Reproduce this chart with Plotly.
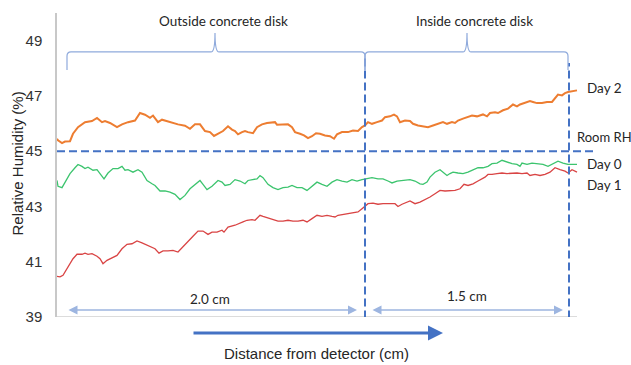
import plotly.graph_objects as go

# Position along the sample (arbitrary units, no tick labels on the x axis)
day2_x = [0, 1, 5, 8, 13, 16, 21, 28, 35, 40, 45, 48, 53, 60, 65, 71, 78, 83, 88, 93, 96, 101, 105, 110, 115, 121,
          128, 133, 138, 143, 148, 153, 157, 163, 166, 171, 175, 178,
          181, 185, 188, 191, 196, 200, 205, 210, 215, 218, 220, 225, 231, 235, 238, 243, 247, 251, 255, 259, 263,
          268, 273, 277, 280, 285, 291, 296, 301, 305, 308, 311, 315, 320, 325, 328, 333, 337, 340, 343, 348, 353,
          356, 361, 366, 371, 376, 381, 386, 390, 395, 398, 401, 406, 411, 415, 420, 426, 430, 433, 438, 441, 446,
          451, 456, 460, 463, 468, 473, 476, 480, 485, 490, 495, 498, 501, 505, 508, 511, 515, 520]
day2_rh = [45.45, 45.39, 45.29, 45.35, 45.36, 45.63, 45.87, 46.05, 46.09, 46.20, 46.05, 46.09, 46.02, 45.87, 45.97,
           46.05, 46.11, 46.38, 46.32, 46.21, 46.29, 46.05, 46.14, 46.09, 46.02, 45.97, 45.92, 45.81, 45.97, 45.97,
           45.73, 45.69, 45.55, 45.69, 45.73, 45.90, 45.78, 45.73,
           45.61, 45.69, 45.73, 45.69, 45.65, 45.87, 45.97, 46.02, 46.05, 46.05, 45.96, 45.97, 45.97, 45.87, 45.69,
           45.63, 45.57, 45.47, 45.54, 45.65, 45.63, 45.57, 45.54, 45.45, 45.61, 45.69, 45.69, 45.75, 45.73, 45.87,
           45.93, 46.05, 45.99, 46.05, 46.11, 46.23, 46.26, 46.32, 46.26, 46.05, 46.11, 46.09,
           45.99, 45.93, 45.90, 45.87, 45.93, 45.99, 46.05, 45.99, 46.05, 46.02, 46.11, 46.18, 46.23, 46.29, 46.26,
           46.33, 46.26, 46.38, 46.41, 46.38, 46.48, 46.54, 46.69, 46.62, 46.69, 46.74, 46.81, 46.78, 46.74, 46.74,
           46.78, 46.78, 46.90, 47.05, 47.02, 47.10, 47.14, 47.17, 47.20]

day0_x = [0, 1, 5, 8, 13, 18, 21, 25, 28, 31, 36, 40, 43, 47, 51, 56, 61, 65, 68, 71, 76, 81, 85, 90, 95, 98, 103,
          108, 113, 118, 123, 128, 133, 138, 143, 146, 150, 155, 161, 165, 168, 173, 178,
          183, 188, 191, 196, 200, 203, 206, 211, 216, 221, 226, 231, 235, 240, 245, 250, 255, 260, 265, 270, 275,
          280, 285, 290, 295, 300, 305, 310, 315, 321, 326, 331, 335, 340, 345, 353,
          358, 363, 366, 370, 373, 378, 383, 386, 390, 393, 396, 401, 406, 411, 416, 421, 426, 431, 435, 440, 445,
          450, 455, 460, 463, 465, 470, 475, 481, 486, 491, 496, 501, 506, 511, 515, 520]
day0_rh = [43.94, 43.73, 43.68, 43.88, 44.19, 44.40, 44.52, 44.45, 44.37, 44.42, 44.31, 44.33, 44.19, 44.00, 44.21,
           44.37, 44.37, 44.45, 44.31, 44.33, 44.24, 44.33, 44.24, 43.94, 43.82, 43.76, 43.56, 43.56, 43.52, 43.44,
           43.25, 43.40, 43.64, 43.80, 43.94, 43.80, 43.61, 43.73, 43.94, 43.88, 43.76, 43.80, 43.97,
           43.92, 43.82, 43.94, 43.97, 44.00, 44.12, 44.04, 43.80, 43.68, 43.61, 43.68, 43.70, 43.76, 43.68, 43.68,
           43.58, 43.73, 43.88, 43.80, 43.73, 43.88, 43.97, 43.92, 43.88, 43.97, 43.92, 43.97, 44.00, 44.04, 44.00,
           44.00, 43.92, 43.85, 43.92, 43.94, 43.97,
           43.92, 43.82, 43.80, 43.88, 44.06, 44.24, 44.33, 44.24, 44.12, 44.19, 44.24, 44.21, 44.19, 44.24, 44.33,
           44.40, 44.40, 44.45, 44.55, 44.57, 44.67, 44.61, 44.55, 44.52, 44.45, 44.57, 44.52, 44.57, 44.55, 44.52,
           44.45, 44.55, 44.64, 44.57, 44.52, 44.52, 44.52]

day1_x = [0, 3, 6, 11, 16, 20, 25, 28, 31, 35, 40, 43, 46, 50, 55, 60, 65, 70, 75, 80, 85, 90, 95, 98, 102, 106,
          111, 116, 121, 126, 131, 136, 141, 146, 151, 155, 160, 165, 167, 171, 178,
          183, 186, 190, 195, 198, 203, 206, 211, 216, 221, 226, 231, 236, 241, 246, 250, 255, 260, 265, 270, 275,
          278, 281, 286, 291, 296, 301, 305, 308, 311, 316, 321, 326, 331, 338, 341, 345, 353,
          358, 363, 368, 373, 378, 383, 388, 393, 398, 403, 407, 411, 416, 421, 425, 428, 431, 435, 440, 445, 450,
          455, 460, 465, 470, 473, 478, 483, 488, 493, 498, 503, 508, 511, 515, 520]
day1_rh = [40.47, 40.45, 40.51, 40.81, 41.11, 41.27, 41.27, 41.31, 41.27, 41.29, 41.20, 41.11, 40.93, 41.05, 41.15,
           41.23, 41.47, 41.63, 41.65, 41.75, 41.68, 41.59, 41.53, 41.47, 41.31, 41.39, 41.39, 41.41, 41.35, 41.53,
           41.71, 41.92, 42.11, 42.11, 41.99, 42.07, 42.07, 42.14, 42.07, 42.25, 42.32,
           42.38, 42.44, 42.50, 42.52, 42.50, 42.68, 42.64, 42.59, 42.52, 42.47, 42.47, 42.50, 42.47, 42.47, 42.50,
           42.44, 42.56, 42.68, 42.64, 42.68, 42.64, 42.62, 42.68, 42.71, 42.76, 42.79, 42.80, 42.92, 43.00, 43.10,
           43.12, 43.08, 43.10, 43.10, 43.10, 43.00, 43.08, 43.20,
           43.10, 43.16, 43.25, 43.34, 43.46, 43.58, 43.56, 43.58, 43.58, 43.64, 43.80, 43.76, 43.82, 43.92, 44.00,
           44.06, 44.16, 44.16, 44.19, 44.21, 44.19, 44.21, 44.21, 44.19, 44.21, 44.12, 44.16, 44.12, 44.16, 44.24,
           44.40, 44.33, 44.28, 44.21, 44.33, 44.24]

room_rh = 45
y_ticks = [39, 41, 43, 45, 47, 49]
series_names = ["Day 2", "Day 0", "Day 1"]
region_labels = ["Outside concrete disk", "Inside concrete disk"]
length_labels = ["2.0 cm", "1.5 cm"]
# Region boundaries along the x axis
region_start, disk_edge, disk_end = 10, 308, 511

ORANGE = "#ED7D31"
GREEN = "#3CC46E"
RED = "#D94444"
BLUE = "#4472C4"
LIGHT = "#8FAADC"
TXT = "#262626"
CAL = "Lato, Carlito, Calibri, sans-serif"
ARIAL = "Arial, Liberation Sans, sans-serif"

fig = go.Figure()
fig.add_trace(go.Scatter(x=day2_x, y=day2_rh, mode="lines", name=series_names[0],
                         line=dict(color=ORANGE, width=2)))
fig.add_trace(go.Scatter(x=day0_x, y=day0_rh, mode="lines", name=series_names[1],
                         line=dict(color=GREEN, width=1.3)))
fig.add_trace(go.Scatter(x=day1_x, y=day1_rh, mode="lines", name=series_names[2],
                         line=dict(color=RED, width=1.3)))

shapes = []
# bottom axis line
shapes.append(dict(type="line", xref="x", yref="y", x0=0, x1=520, y0=39, y1=39,
                   line=dict(color="#D0D0D0", width=1.5), layer="below"))
# room RH line
shapes.append(dict(type="line", xref="x", yref="y", x0=0, x1=540, y0=room_rh, y1=room_rh,
                   line=dict(color=BLUE, width=2, dash="8px,4px")))
# vertical dashed boundaries
shapes.append(dict(type="line", xref="x", yref="y", x0=disk_edge, x1=disk_edge, y0=38.95, y1=48.36,
                   line=dict(color=BLUE, width=2, dash="8px,4px")))
shapes.append(dict(type="line", xref="x", yref="y", x0=disk_end + 1, x1=disk_end + 1, y0=38.95, y1=48.19,
                   line=dict(color=BLUE, width=2, dash="8px,4px")))


def brace(x0, x1, tip, ylo=47.94, yh=48.59, ytip=49.28):
    return (f"M {x0},{ylo} L {x0},{yh - 0.15} Q {x0},{yh} {x0 + 4},{yh} "
            f"L {tip - 4},{yh} Q {tip},{yh} {tip},{ytip} Q {tip},{yh} {tip + 4},{yh} "
            f"L {x1 - 4},{yh} Q {x1},{yh} {x1},{yh - 0.15} L {x1},{ylo}")


shapes.append(dict(type="path", xref="x", yref="y", path=brace(region_start, disk_edge, 158),
                   line=dict(color=LIGHT, width=1.2)))
shapes.append(dict(type="path", xref="x", yref="y", path=brace(disk_edge, disk_end, 410),
                   line=dict(color=LIGHT, width=1.2)))

ann = []
ann.append(dict(x=166, y=49.71, xref="x", yref="y", text=region_labels[0], showarrow=False,
                font=dict(family=CAL, size=13.5, color=TXT)))
ann.append(dict(x=417, y=49.71, xref="x", yref="y", text=region_labels[1], showarrow=False,
                font=dict(family=CAL, size=13.5, color=TXT)))
ann.append(dict(x=153, y=39.65, xref="x", yref="y", text=length_labels[0], showarrow=False,
                font=dict(family=CAL, size=13.5, color=TXT)))
ann.append(dict(x=410, y=39.76, xref="x", yref="y", text=length_labels[1], showarrow=False,
                font=dict(family=CAL, size=13.5, color=TXT)))
# dimension arrows
for a0, a1 in [(10, 300), (314, 506)]:
    ann.append(dict(x=a1, y=39.253, ax=a0, ay=39.253, xref="x", yref="y", axref="x", ayref="y",
                    text="", showarrow=True, arrowhead=2, arrowside="end+start", arrowsize=1.2,
                    arrowwidth=1.5, arrowcolor="#9DB5E0"))
# direction arrow (below the plot area, paper coordinates)
ann.append(dict(x=386 / 540, y=(317 - 333) / 304, ax=-251, ay=0, xref="paper", yref="paper",
                axref="pixel", ayref="pixel",
                text="", showarrow=True, arrowhead=2, arrowsize=1, arrowwidth=3, arrowcolor=BLUE))
# right labels
for txt, yy, xx, fs in [("Day 2", 47.29, 528, 13.5), ("Room RH", 45.51, 518, 13),
                        ("Day 0", 44.54, 528, 13.5), ("Day 1", 43.78, 528, 13.5)]:
    ann.append(dict(x=xx, y=yy, xref="x", yref="y", text=txt, showarrow=False, xanchor="left",
                    font=dict(family=CAL, size=fs, color=TXT)))
# axis titles
ann.append(dict(x=259.5 / 540, y=(317 - 353) / 304, xref="paper", yref="paper",
                xanchor="center", yanchor="middle",
                text="Distance from detector (cm)", showarrow=False,
                font=dict(family=ARIAL, size=15, color=TXT)))
ann.append(dict(x=-40 / 540, y=(317 - 163.5) / 304, xref="paper", yref="paper",
                xanchor="center", yanchor="middle",
                text="Relative Humidity (%)", showarrow=False,
                textangle=-90, font=dict(family=ARIAL, size=15, color=TXT)))

fig.update_layout(
    width=631, height=365,
    margin=dict(l=57, r=34, t=13, b=48),
    paper_bgcolor="white", plot_bgcolor="white",
    showlegend=False,
    shapes=shapes, annotations=ann,
    xaxis=dict(range=[0, 540], showgrid=False, zeroline=False, showticklabels=False, showline=False,
               ticks=""),
    yaxis=dict(range=[39, 50], tickvals=y_ticks, showgrid=False, zeroline=False, showline=True,
               linecolor="#C8C8C8", linewidth=1.5, ticks="", ticklabelstandoff=10,
               tickfont=dict(family=ARIAL, size=15, color="#333333")),
)

fig.write_html("out.html")
